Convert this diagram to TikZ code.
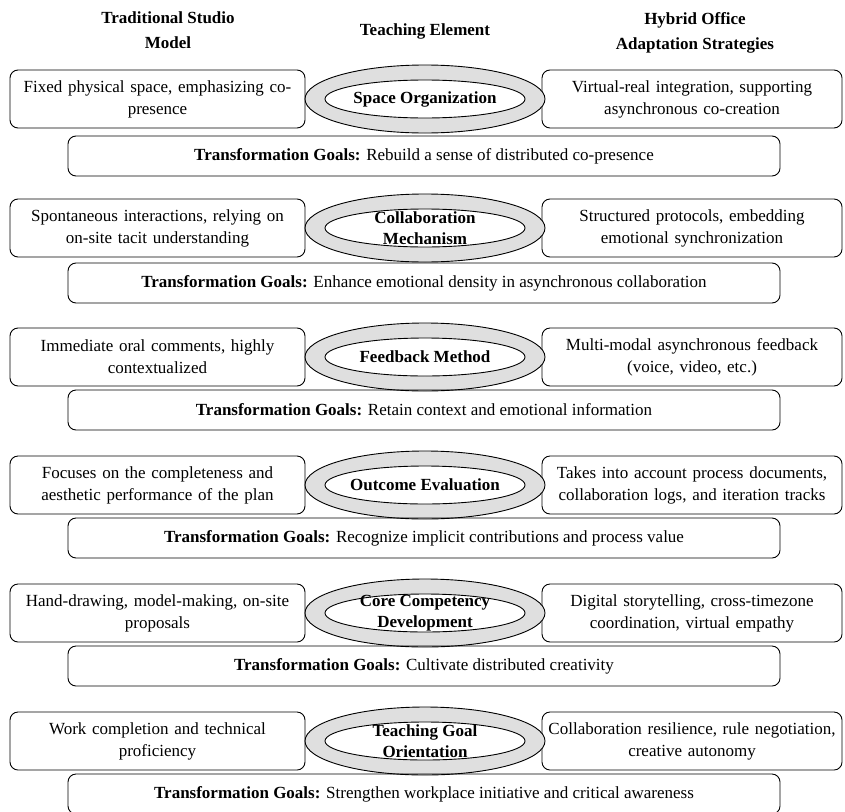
\documentclass[tikz,border=0pt]{standalone}
\usepackage{fontspec}
\setmainfont{Liberation Serif}
\usetikzlibrary{shapes.geometric}
\begin{document}
\begin{tikzpicture}[x=1pt,y=-1pt,
 txt/.style={font=\fontsize{17}{22}\selectfont, align=center},
 side/.style={txt, draw, rounded corners=8pt, line width=0.9pt, minimum height=58pt, inner sep=0pt},
 lbox/.style={side, minimum width=295pt, text width=290pt},
 rbox/.style={side, minimum width=300pt, text width=298pt},
 goal/.style={txt, draw, rounded corners=8pt, line width=0.9pt, minimum width=712pt, minimum height=40pt},
 outerell/.style={ellipse, draw, fill=gray!25, line width=0.9pt, minimum width=240pt, minimum height=68pt, inner sep=0pt},
 innerell/.style={ellipse, draw, fill=white, line width=0.9pt, minimum width=200pt, minimum height=38pt, inner sep=0pt},
 etext/.style={align=center, inner sep=0pt, font=\bfseries\fontsize{17}{21}\selectfont},
 head/.style={align=center, font=\bfseries\fontsize{17}{25}\selectfont}]
\useasboundingbox (0,0) rectangle (845,811);

\node[head] (h1) at (168,30) {Traditional Studio\\Model};
\node[head] (h2) at (425,31) {Teaching Element};
\node[head] (h3) at (695,33) {Hybrid Office\\Adaptation Strategies};

% Row 1
\node[lbox] (l1) at (157.5,99) {Fixed physical space, emphasizing co-\\presence};
\node[rbox] (r1) at (692,99) {Virtual-real integration, supporting\\asynchronous co-creation};
\node[outerell] (o1) at (425,99) {};
\node[innerell] (i1) at (o1) {};
\node[etext] (t1) at (i1) {Space Organization};
\node[goal] (g1) at (424,156) {\textbf{Transformation Goals:} Rebuild a sense of distributed co-presence};

% Row 2
\node[lbox] (l2) at (157.5,228) {Spontaneous interactions, relying on\\on-site tacit understanding};
\node[rbox] (r2) at (692,228) {Structured protocols, embedding\\emotional synchronization};
\node[outerell] (o2) at (425,228) {};
\node[innerell] (i2) at (o2) {};
\node[etext] (t2) at (i2) {Collaboration\\Mechanism};
\node[goal] (g2) at (424,283) {\textbf{Transformation Goals:} Enhance emotional density in asynchronous collaboration};

% Row 3
\node[lbox] (l3) at (157.5,357) {Immediate oral comments, highly\\contextualized};
\node[rbox] (r3) at (692,357) {Multi-modal asynchronous feedback\\(voice, video, etc.)};
\node[outerell] (o3) at (425,357) {};
\node[innerell] (i3) at (o3) {};
\node[etext] (t3) at (i3) {Feedback Method};
\node[goal] (g3) at (424,410) {\textbf{Transformation Goals:} Retain context and emotional information};

% Row 4
\node[lbox] (l4) at (157.5,485) {Focuses on the completeness and\\aesthetic performance of the plan};
\node[rbox] (r4) at (692,485) {Takes into account process documents,\\collaboration logs, and iteration tracks};
\node[outerell] (o4) at (425,485) {};
\node[innerell] (i4) at (o4) {};
\node[etext] (t4) at (i4) {Outcome Evaluation};
\node[goal] (g4) at (424,538) {\textbf{Transformation Goals:} Recognize implicit contributions and process value};

% Row 5
\node[lbox] (l5) at (157.5,613) {Hand-drawing, model-making, on-site\\proposals};
\node[rbox] (r5) at (692,613) {Digital storytelling, cross-timezone\\coordination, virtual empathy};
\node[outerell] (o5) at (425,613) {};
\node[innerell] (i5) at (o5) {};
\node[etext] (t5) at (i5) {Core Competency\\Development};
\node[goal] (g5) at (424,666) {\textbf{Transformation Goals:} Cultivate distributed creativity};

% Row 6
\node[lbox] (l6) at (157.5,741) {Work completion and technical\\proficiency};
\node[rbox] (r6) at (692,741) {Collaboration resilience, rule negotiation,\\creative autonomy};
\node[outerell] (o6) at (425,741) {};
\node[innerell] (i6) at (o6) {};
\node[etext] (t6) at (i6) {Teaching Goal\\Orientation};
\node[goal] (g6) at (424,794) {\textbf{Transformation Goals:} Strengthen workplace initiative and critical awareness};
\end{tikzpicture}
\end{document}
